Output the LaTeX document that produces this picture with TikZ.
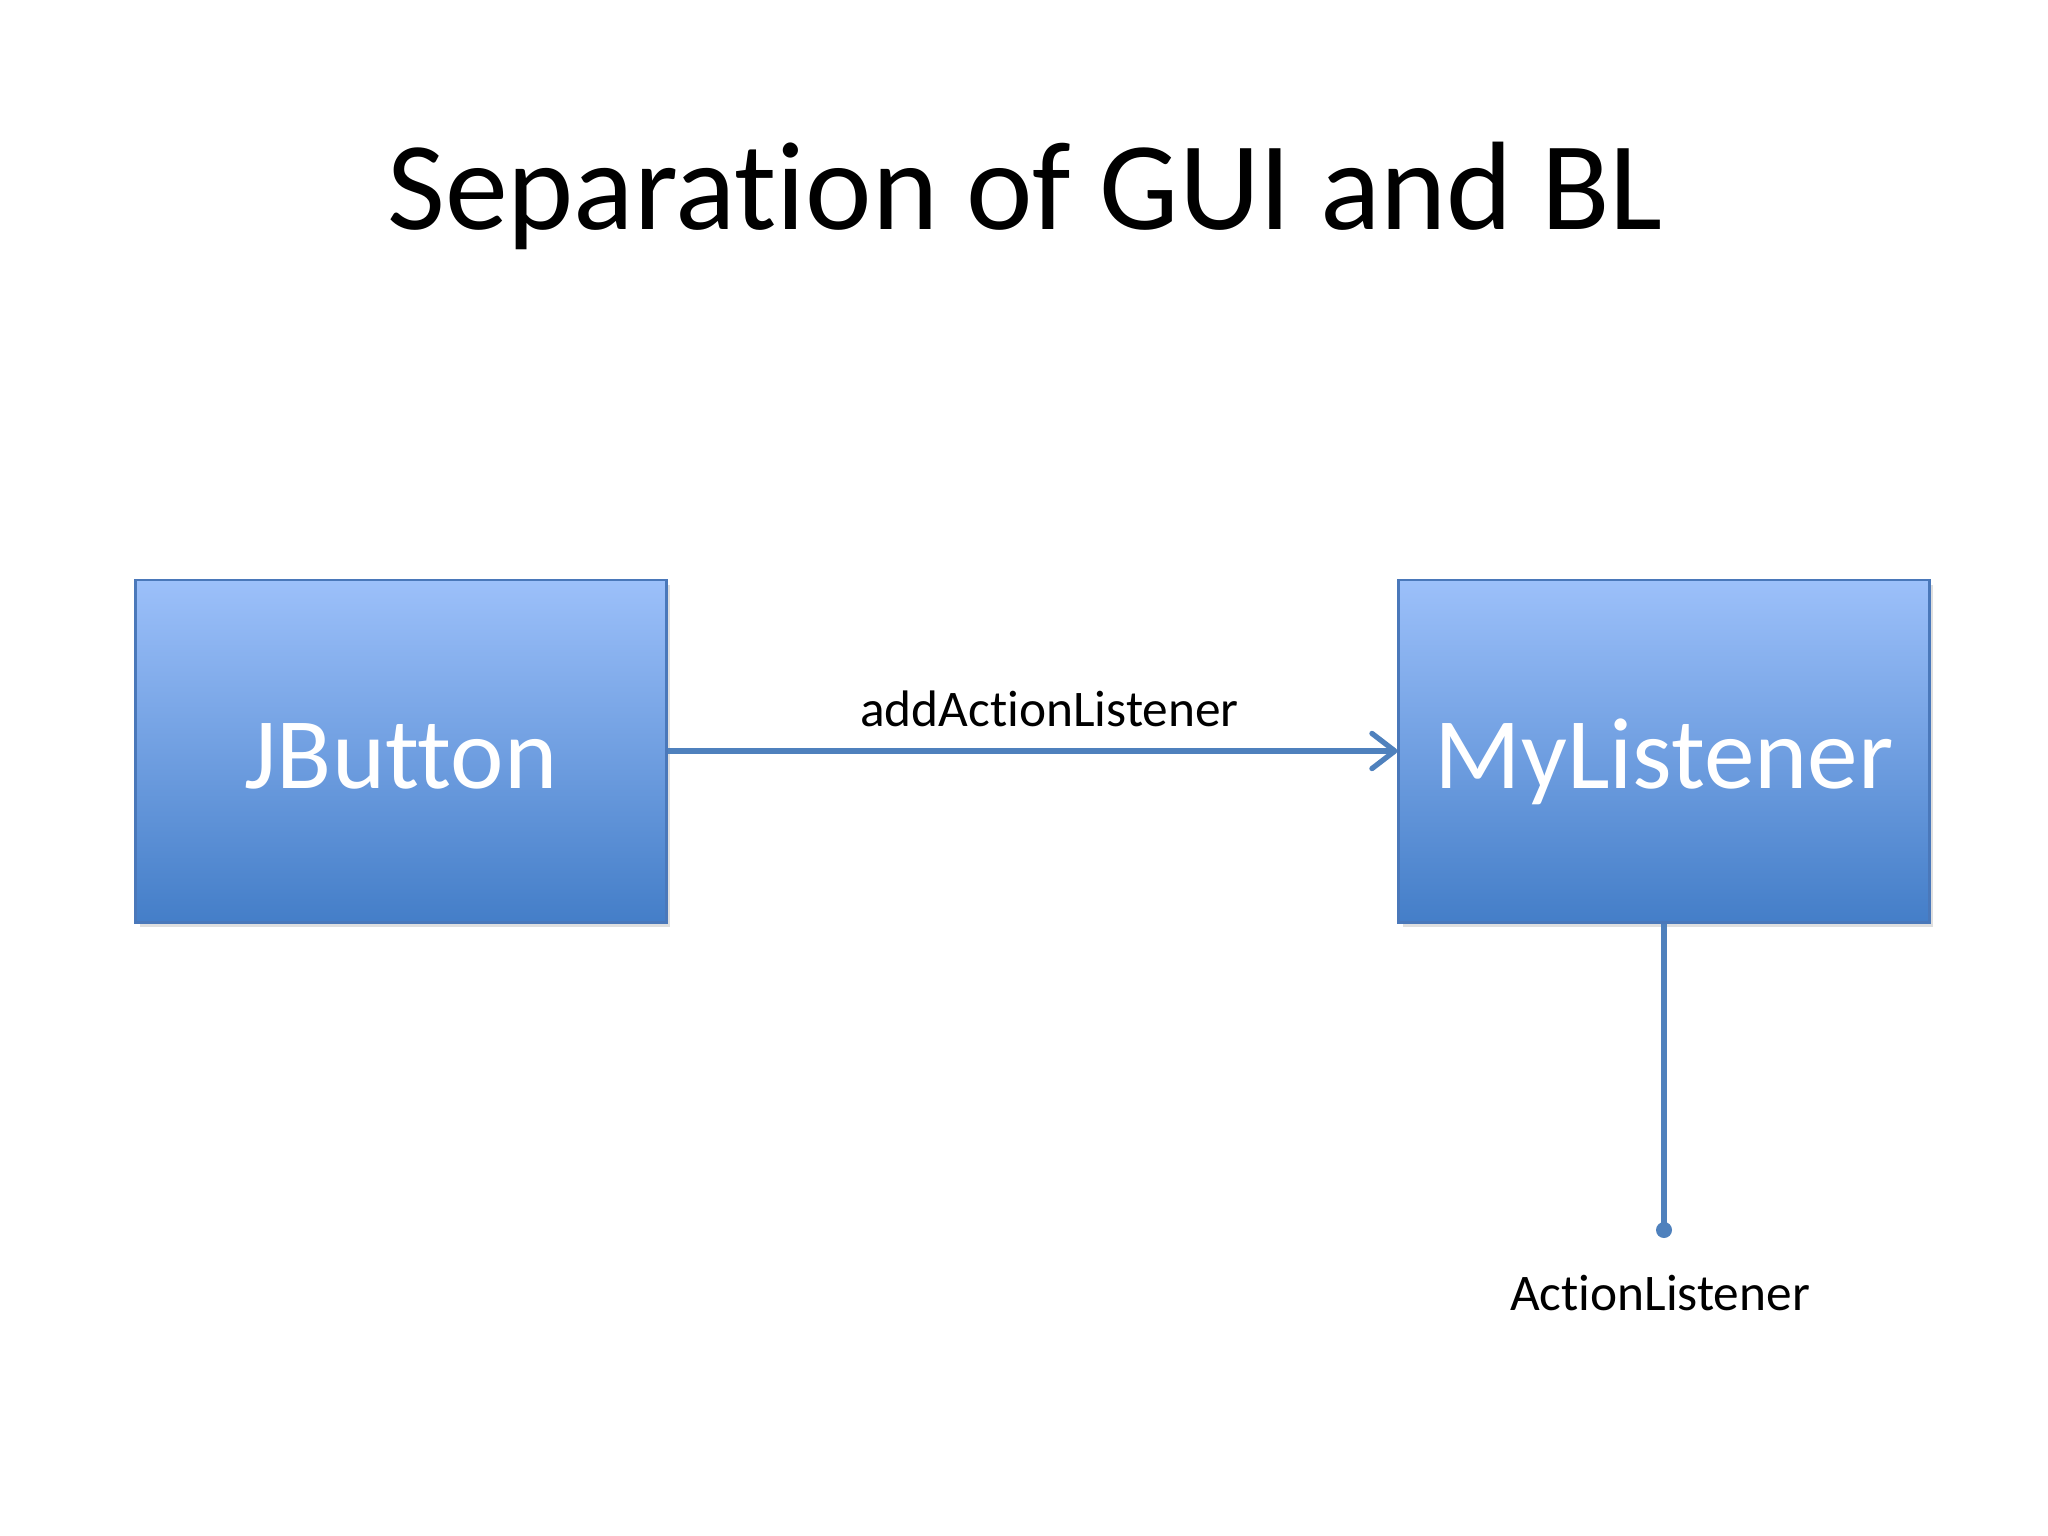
\documentclass[tikz,border=0pt]{standalone}
\usepackage{fontspec}
\setmainfont{Carlito}[Ligatures={NoCommon}]
\usetikzlibrary{arrows.meta,shadows}
\definecolor{boxtop}{RGB}{156,192,250}
\definecolor{boxbot}{RGB}{68,126,200}
\definecolor{boxedge}{RGB}{74,120,186}
\definecolor{linkc}{RGB}{79,129,189}
\tikzset{
  classbox/.style={draw=boxedge, line width=0.8pt, top color=boxtop, bottom color=boxbot,
    minimum width=5.3cm, minimum height=3.42cm, inner sep=0pt, text=white,
    text height=21.3pt, text depth=0pt,
    font=\fontsize{28.8}{34}\selectfont,
    drop shadow={opacity=0.25, shadow xshift=0.04cm, shadow yshift=-0.05cm}},
  link/.style={draw=linkc, line width=1.5pt},
  lbl/.style={font=\fontsize{14.6}{17}\selectfont, text=black, inner sep=0pt},
  titlestyle/.style={font=\fontsize{35.8}{43}\selectfont, text=black, inner sep=0pt}
}
\begin{document}
\begin{tikzpicture}[x=0.01cm,y=-0.01cm]
\useasboundingbox[fill=white] (0,0) rectangle (2048,1536);
\node[titlestyle] (title) at (1025,196) {Separation of GUI and BL};
\node[classbox] (jb) at (401,751) {JButton};
\node[classbox] (ml) at (1664,751) {MyListener};
\draw[link, -{Straight Barb[length=6.5pt,width=10pt,line width=1.5pt,round]}] (jb.east) -- node[lbl, above=6pt, xshift=0.17cm] (addl) {addActionListener} (ml.west);
\coordinate (dot) at (1664,1230);
\draw[link] (ml.south) -- (dot);
\fill[linkc] (dot) circle (8);
\node[lbl] (al) at (1660,1293) {ActionListener};
\end{tikzpicture}
\end{document}
